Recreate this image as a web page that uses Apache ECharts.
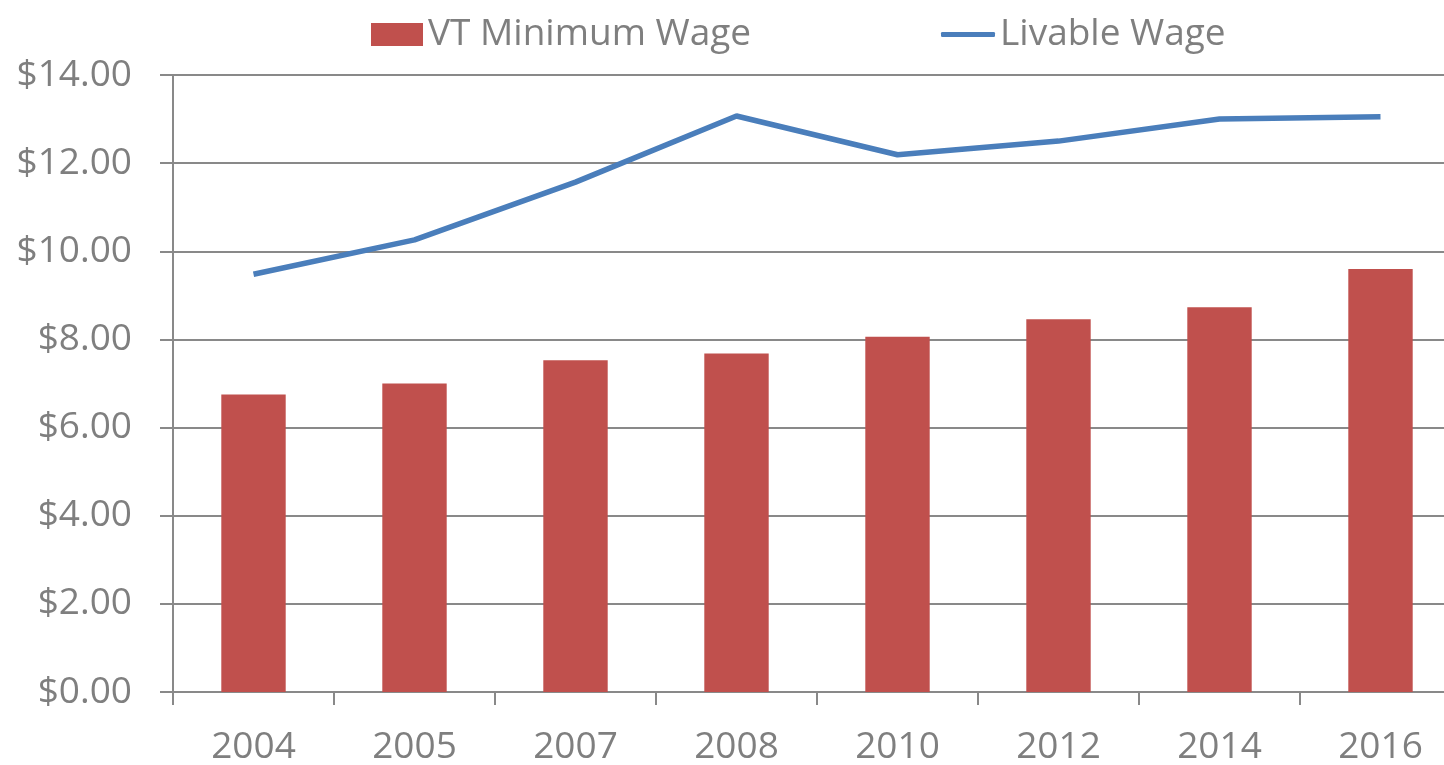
<!DOCTYPE html>
<html>
<head>
<meta charset="utf-8">
<script src="https://cdn.jsdelivr.net/npm/echarts@6/dist/echarts.min.js"></script>
<style>
  html, body { margin: 0; padding: 0; background: #fff; }
  #chart { width: 1444px; height: 765px; }
</style>
</head>
<body>
<div id="chart"></div>
<script>
// values
const years = ['2004', '2005', '2007', '2008', '2010', '2012', '2014', '2016']
const minWage = [6.75, 7.00, 7.53, 7.68, 8.06, 8.46, 8.73, 9.60]
const livableWage = [9.48, 10.26, 11.57, 13.07, 12.19, 12.50, 13.00, 13.05]

const FONT = 'Open Sans'
const GREY = '#898989'
const TEXT = '#7f7f7f'

const legendText = { color: TEXT, fontSize: 37, fontFamily: FONT }

const chart = echarts.init(document.getElementById('chart'))
chart.setOption({
  animation: false,
  backgroundColor: '#fff',
  legend: [
    {
      data: [{ name: 'VT Minimum Wage', icon: 'rect' }],
      left: 366, top: 11,
      itemWidth: 52, itemHeight: 23, itemGap: 4,
      textStyle: legendText
    },
    {
      // legend line drawn as a thin round bar
      data: [{ name: 'Livable Wage', icon: 'roundRect' }],
      left: 936, top: 11,
      itemWidth: 54, itemHeight: 5, itemGap: 4,
      itemStyle: { color: '#4a7ebb' },
      textStyle: legendText
    }
  ],
  // last category boundary falls outside the picture, so don't clamp the grid
  grid: {
    left: 173, width: 1288, top: 75, bottom: 73,
    containLabel: false, outerBoundsMode: 'none'
  },
  xAxis: {
    type: 'category',
    data: years,
    axisLine: { lineStyle: { color: GREY, width: 2 } },
    axisTick: { show: true, length: 13, lineStyle: { color: GREY, width: 2 } },
    axisLabel: { color: TEXT, fontSize: 37, fontFamily: FONT, margin: 37 }
  },
  yAxis: {
    type: 'value',
    min: 0, max: 14, interval: 2,
    axisLine: { show: true, lineStyle: { color: GREY, width: 2 } },
    axisTick: { show: true, length: 13, lineStyle: { color: GREY, width: 2 } },
    splitLine: { lineStyle: { color: GREY, width: 2 } },
    axisLabel: {
      color: TEXT, fontSize: 37, fontFamily: FONT, margin: 41,
      formatter: v => '$' + v.toFixed(2)
    }
  },
  series: [
    {
      name: 'VT Minimum Wage',
      type: 'bar',
      barWidth: '40%',
      itemStyle: { color: '#c0504d' },
      data: minWage
    },
    {
      name: 'Livable Wage',
      type: 'line',
      symbol: 'none',
      lineStyle: { color: '#4a7ebb', width: 5.5 },
      itemStyle: { color: '#4a7ebb' },
      data: livableWage
    }
  ]
})
</script>
</body>
</html>
